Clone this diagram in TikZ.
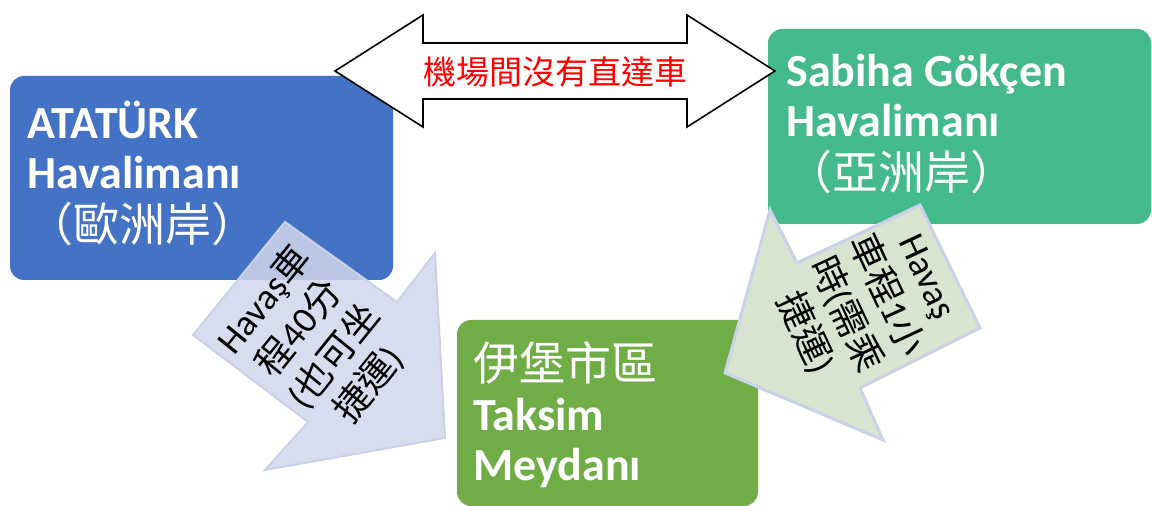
\documentclass[tikz,border=0pt]{standalone}
\usepackage{fontspec}
\setmainfont{Carlito}
\newfontfamily\cjk{Noto Sans CJK TC}
\usepackage{tikz}
\setlength{\lineskiplimit}{-20pt}

\definecolor{atablue}{RGB}{68,114,196}
\definecolor{sawgreen}{RGB}{68,186,140}
\definecolor{taksimgreen}{RGB}{112,173,71}
\definecolor{havasblue}{RGB}{208,215,235}
\definecolor{havasgreen}{RGB}{216,228,208}
\definecolor{havasedge}{RGB}{202,209,232}

\begin{document}
\begin{tikzpicture}[x=0.5pt,y=-0.5pt,
  box/.style={rounded corners=7pt,inner sep=0pt},
  boxtext/.style={text=white,align=left,inner sep=0pt,anchor=base west,font=\fontsize{23}{25}\selectfont\bfseries},
  havastext/.style={align=center,inner sep=0pt,font=\fontsize{18.5}{22.5}\selectfont}]
\useasboundingbox (0,0) rectangle (1152,506);
\node[box,fill=atablue,minimum width=191.5pt,minimum height=102pt] (ata) at (201.5,178) {};
\node[box,fill=sawgreen,minimum width=191.5pt,minimum height=97.5pt] (saw) at (959.5,126.5) {};
\node[box,fill=taksimgreen,minimum width=150.5pt,minimum height=93pt] (taksim) at (607.5,413) {};
\node[boxtext] (ataname) at (27,242) {ATATÜRK\\Havalimanı\\[1.5pt]{\cjk\mdseries （歐洲岸）}};
\node[boxtext] (sawname) at (786,190) {Sabiha Gökçen\\Havalimanı\\[1.5pt]{\cjk\mdseries （亞洲岸）}};
\node[boxtext] (taksimname) at (473,481) {{\cjk\mdseries 伊堡市區}\\Taksim\\Meydanı};
\draw[line width=0.8pt,fill=white] (335,71) -- (423,15) -- (423,43) -- (687,43) -- (687,15) -- (775,71)
  -- (687,127) -- (687,99) -- (423,99) -- (423,127) -- cycle;
\node[text=red,font=\cjk\fontsize{16.5}{18}\selectfont] (nodirect) at (555,72) {機場間沒有直達車};
\filldraw[fill=havasblue,fill opacity=0.85,draw=havasedge,line width=1pt] (285,222) -- (397,302) -- (435,253)
  -- (445,438) -- (265,470) -- (308,422) -- (193,335) -- cycle;
\node[havastext,rotate=51] (havasata) at (316,342) {Havaş{\cjk 車}\\{\cjk 程}40{\cjk 分}\\{(}{\cjk 也可坐}\\{\cjk 捷運})};
\filldraw[fill=havasgreen,draw=havasedge,line width=1.5pt] (725,373) -- (770,210) -- (797,263) -- (920,205)
  -- (980,328) -- (860,388) -- (883,440) -- cycle;
\node[havastext,rotate=-65] (havassaw) at (864,306) {Havaş\\{\cjk 車程}1{\cjk 小}\\{\cjk 時}({\cjk 需乘}\\{\cjk 捷運})};
\end{tikzpicture}
\end{document}
